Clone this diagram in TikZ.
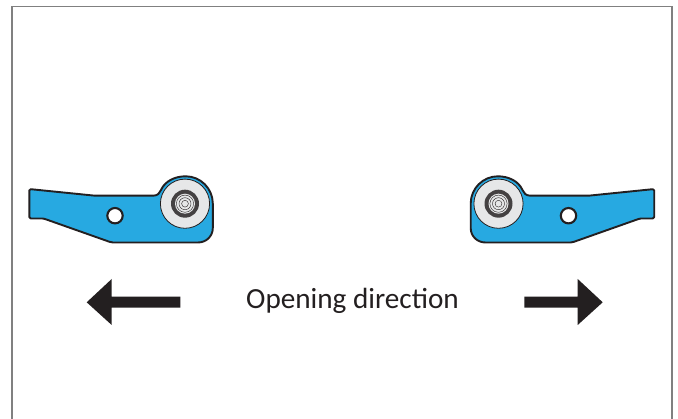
\documentclass[tikz,border=0pt]{standalone}
\usepackage{fontspec}
\setmainfont{Carlito}
\definecolor{leverblue}{HTML}{27A9E1}
\definecolor{rollergray}{HTML}{E6E7E8}
\definecolor{inkblack}{HTML}{231F20}
\definecolor{framegray}{HTML}{808080}
\tikzset{
  leverbody/.style={fill=leverblue,draw=inkblack,line width=1.9pt,line join=round},
  holecirc/.style={fill=white,draw=inkblack,line width=2.1pt},
  rollercirc/.style={fill=rollergray,draw=inkblack,line width=0.8pt},
  bigarrow/.style={fill=inkblack,draw=none},
}
\newcommand{\leverdraw}{%
  \draw[leverbody] (30.8,189.2) -- (95,195.7) -- (153,195.7)
    .. controls (158,195.7) and (159.5,193) .. (161,190)
    .. controls (165,181) and (175,176.3) .. (185.7,176.3)
    .. controls (200.5,176.3) and (212.8,188.5) .. (212.8,203.5)
    -- (212.8,228)
    .. controls (212.8,236.5) and (206,242.5) .. (198,242.5)
    -- (113,242.5) .. controls (111.5,242.5) and (110.5,242.2) .. (109.5,241.8)
    -- (45,219) .. controls (44,218.6) and (43.5,218.5) .. (42.5,218.5)
    -- (30.8,218.5) .. controls (29.8,218.5) and (29.3,218) .. (29.3,217)
    -- (29.3,190.5) .. controls (29.3,189.6) and (29.9,189.1) .. (30.8,189.2) -- cycle;
  \draw[holecirc] (115,215.7) circle[radius=7.7];
  \draw[rollercirc] (185,203.7) circle[radius=24.6];
  \fill[inkblack!85] (185,203.7) circle[radius=14];
  \fill[rollergray] (185,203.7) circle[radius=10];
  \foreach \r in {8.6,6,3.4}{\draw[inkblack,line width=0.4pt] (185,203.7) circle[radius=\r];}
}
\begin{document}
\begin{tikzpicture}[x=1pt,y=-1pt]
\useasboundingbox (0,0) rectangle (678,419);
\fill[white] (0,0) rectangle (678,419);
\draw[framegray,line width=1.6pt] (12,419) -- (12,6.5) -- (672,6.5) -- (672,419);
\leverdraw
\begin{scope}[xshift=683.5pt,x=-1pt]
\leverdraw
\end{scope}
\fill[bigarrow] (86.7,302.3) -- (111.7,279) -- (111.7,296.7) -- (180.3,296.7) -- (180.3,307.7) -- (111.7,307.7) -- (111.7,325) -- cycle;
\fill[bigarrow] (602.7,302.3) -- (577.7,279) -- (577.7,296.7) -- (524.3,296.7) -- (524.3,307.7) -- (577.7,307.7) -- (577.7,325) -- cycle;
\node[font=\fontsize{29.2}{32}\selectfont,text=inkblack,inner sep=0pt,anchor=base] (label) at (352.5,308.3) {Opening direction};
\end{tikzpicture}
\end{document}
